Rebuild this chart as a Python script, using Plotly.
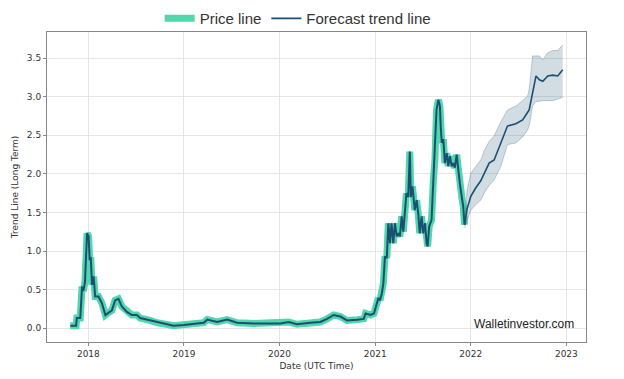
import plotly.graph_objects as go

price_dates = [
    "2017-10-24", "2017-11-15", "2017-11-18", "2017-12-01", "2017-12-08", "2017-12-13",
    "2017-12-19", "2017-12-27", "2018-01-02", "2018-01-06", "2018-01-10", "2018-01-15",
    "2018-01-21", "2018-01-27", "2018-02-09", "2018-02-22", "2018-03-07", "2018-03-18",
    "2018-04-01", "2018-04-13", "2018-04-26", "2018-05-09", "2018-05-28", "2018-06-16",
    "2018-07-05", "2018-07-18", "2018-08-25", "2018-09-20", "2018-11-22", "2018-12-31",
    "2019-03-18", "2019-03-31", "2019-05-08", "2019-06-15", "2019-07-23", "2019-09-25",
    "2019-11-28", "2020-01-04", "2020-02-05", "2020-03-08", "2020-04-28", "2020-06-05",
    "2020-07-01", "2020-07-26", "2020-08-21", "2020-09-15", "2020-10-24", "2020-11-18",
    "2020-11-25", "2020-12-14", "2020-12-27", "2021-01-06", "2021-01-13", "2021-01-19",
    "2021-01-26", "2021-02-01", "2021-02-07", "2021-02-14", "2021-02-20", "2021-02-26",
    "2021-03-04", "2021-03-11", "2021-03-17", "2021-03-24", "2021-03-30", "2021-04-05",
    "2021-04-12", "2021-04-18", "2021-04-24", "2021-04-30", "2021-05-07", "2021-05-13",
    "2021-05-17", "2021-05-23", "2021-06-01", "2021-06-08", "2021-06-14", "2021-06-20",
    "2021-06-27", "2021-07-03", "2021-07-10", "2021-07-16", "2021-07-20", "2021-07-26",
    "2021-08-04", "2021-08-11", "2021-08-17", "2021-08-23", "2021-08-30", "2021-09-05",
    "2021-09-08", "2021-09-12", "2021-09-18", "2021-09-24", "2021-10-01", "2021-10-07",
    "2021-10-13", "2021-10-20", "2021-10-26", "2021-11-01", "2021-11-08", "2021-11-14",
    "2021-11-20", "2021-11-27", "2021-12-03", "2021-12-08",
]
price_values = [
    0.03, 0.03, 0.13, 0.13, 0.54, 0.48,
    0.60, 1.23, 1.19, 0.88, 0.92, 0.56,
    0.67, 0.41, 0.41, 0.32, 0.17, 0.20,
    0.23, 0.36, 0.38, 0.28, 0.21, 0.17,
    0.17, 0.13, 0.10, 0.07, 0.03, 0.04,
    0.07, 0.11, 0.08, 0.11, 0.07, 0.06,
    0.06, 0.06, 0.08, 0.05, 0.07, 0.08,
    0.12, 0.17, 0.15, 0.10, 0.11, 0.12,
    0.19, 0.17, 0.19, 0.30, 0.39, 0.36,
    0.45, 0.58, 0.93, 0.91, 1.36, 1.10,
    1.36, 1.10, 1.36, 1.19, 1.23, 1.19,
    1.45, 1.25, 1.49, 1.75, 1.70, 2.29,
    1.70, 1.84, 1.53, 1.66, 1.49, 1.23,
    1.45, 1.23, 1.36, 1.10, 1.06, 1.32,
    1.40, 1.92, 2.18, 2.83, 2.96, 2.88,
    2.62, 2.40, 2.45, 2.14, 2.27, 2.10,
    2.23, 2.10, 2.14, 2.08, 2.25, 2.01,
    1.88, 1.71, 1.58, 1.34,
]

forecast_dates = [
    "2021-12-08", "2021-12-18", "2022-01-01", "2022-01-20", "2022-02-08", "2022-02-21",
    "2022-03-12", "2022-03-31", "2022-04-26", "2022-05-21", "2022-06-22", "2022-07-18",
    "2022-08-06", "2022-08-12", "2022-08-25", "2022-09-07", "2022-09-20", "2022-10-03",
    "2022-10-22", "2022-11-10", "2022-11-29", "2022-12-18",
]
forecast_values = [
    1.34, 1.55, 1.71, 1.82, 1.91, 2.01,
    2.14, 2.18, 2.40, 2.62, 2.65, 2.70,
    2.80, 2.83, 3.05, 3.27, 3.22, 3.20,
    3.27, 3.28, 3.27, 3.35,
]
forecast_upper = [
    1.36, 1.80, 2.01, 2.10, 2.18, 2.30,
    2.42, 2.49, 2.68, 2.83, 2.88, 2.95,
    3.01, 3.10, 3.53, 3.53, 3.53, 3.48,
    3.57, 3.60, 3.60, 3.67,
]
forecast_lower = [
    1.30, 1.40, 1.53, 1.60, 1.66, 1.75,
    1.85, 1.92, 2.10, 2.38, 2.40, 2.48,
    2.57, 2.62, 2.88, 2.94, 2.94, 2.95,
    2.95, 2.95, 2.97, 2.99,
]

y_ticks = [0.0, 0.5, 1.0, 1.5, 2.0, 2.5, 3.0, 3.5]

TEAL = "#52d6ac"
DARK = "#1b4f72"

fig = go.Figure()
# price line: teal halo + dark core
fig.add_trace(go.Scatter(x=price_dates, y=price_values, mode="lines", name="Price line",
                         line=dict(color=TEAL, width=7)))
fig.add_trace(go.Scatter(x=price_dates, y=price_values, mode="lines", showlegend=False,
                         line=dict(color=DARK, width=2)))
# forecast band
fig.add_trace(go.Scatter(x=forecast_dates, y=forecast_upper, mode="lines",
                         line=dict(color="rgba(27,79,114,0.25)", width=1),
                         showlegend=False, hoverinfo="skip"))
fig.add_trace(go.Scatter(x=forecast_dates, y=forecast_lower, mode="lines",
                         line=dict(color="rgba(27,79,114,0.25)", width=1),
                         fill="tonexty", fillcolor="rgba(27,79,114,0.2)",
                         showlegend=False, hoverinfo="skip"))
fig.add_trace(go.Scatter(x=forecast_dates, y=forecast_values, mode="lines",
                         name="Forecast trend line", line=dict(color=DARK, width=1.6)))

fig.update_layout(
    width=624, height=379,
    margin=dict(l=39, r=46, t=24, b=45, autoexpand=False),
    paper_bgcolor="white", plot_bgcolor="white",
    font=dict(family="DejaVu Sans", size=9, color="#333"),
    legend=dict(orientation="h", x=0.465, xanchor="center", y=0.972, yanchor="middle",
                yref="container", traceorder="normal",
                font=dict(family="Liberation Sans", size=15, color="#333"),
                itemwidth=30, bgcolor="rgba(0,0,0,0)"),
    showlegend=True,
    annotations=[dict(text="Walletinvestor.com", xref="paper", yref="y", x=0.981, y=0.05,
                      xanchor="right", yanchor="middle", showarrow=False,
                      font=dict(family="Liberation Sans", size=12, color="#222"))],
)
fig.update_xaxes(
    range=["2017-07-27", "2023-03-17"], dtick="M12", tick0="2018-01-01", tickformat="%Y",
    showgrid=True, gridcolor="#e6e6e6", gridwidth=1,
    showline=True, linecolor="#888", linewidth=1, mirror=True,
    ticks="outside", ticklen=3, tickcolor="#888", automargin=False,
    title=dict(text="Date (UTC Time)", font=dict(size=9), standoff=4),
    zeroline=False,
)
fig.update_yaxes(
    range=[-0.18, 3.84], tickvals=y_ticks, tickformat=".1f",
    showgrid=True, gridcolor="#e6e6e6", gridwidth=1,
    showline=True, linecolor="#888", linewidth=1, mirror=True,
    ticks="outside", ticklen=3, tickcolor="#888", automargin=False,
    title=dict(text="Trend Line (Long Term)", font=dict(size=9), standoff=6),
    zeroline=False,
)

fig.write_html("out.html")
